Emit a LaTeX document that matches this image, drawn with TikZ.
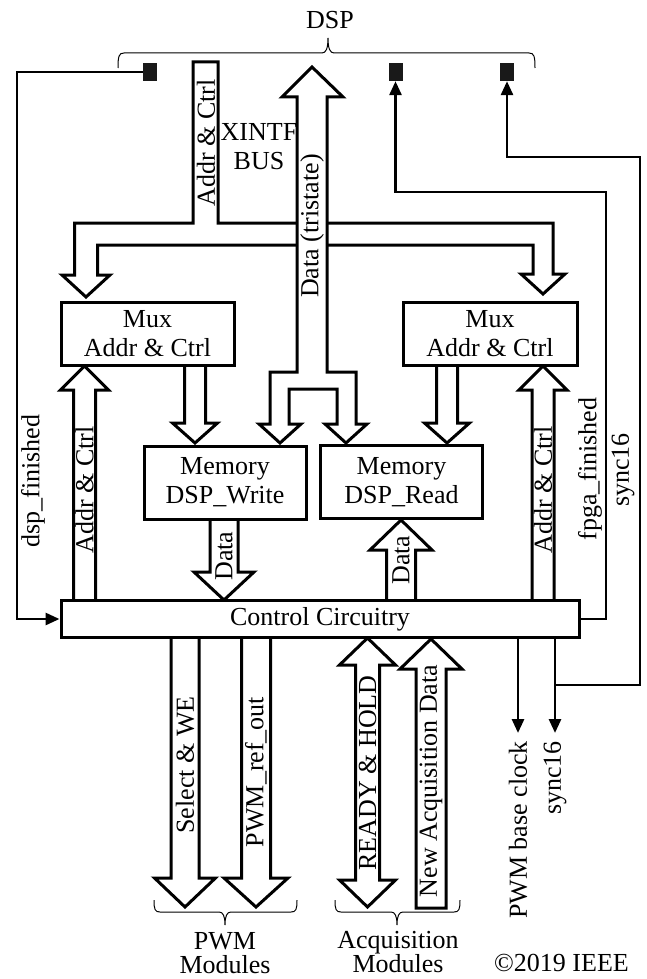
\documentclass[tikz,border=0pt]{standalone}
\usepackage{fontspec}
\setmainfont{Liberation Serif}
\usetikzlibrary{arrows.meta}
% x, ystart, head base, tip, shaft half width, head half width
\newcommand\fatarrow[6]{%
  \path[fat] ({#1-#5},#2) -- ({#1-#5},#3) -- ({#1-#6},#3) -- (#1,#4) -- ({#1+#6},#3) -- ({#1+#5},#3) -- ({#1+#5},#2);}
% x1, x2, xmid, yend, yline, ytip
\newcommand\hbrace[6]{%
  \draw[brc] (#1,#4) .. controls (#1,{#5+(#4-#5)*0.2}) and ({#1+1},#5) .. ({#1+6},#5) -- ({#3-6},#5)
    .. controls ({#3-2},#5) and (#3,{#5+(#6-#5)*0.3}) .. (#3,#6)
    .. controls (#3,{#5+(#6-#5)*0.3}) and ({#3+2},#5) .. ({#3+6},#5) -- ({#2-6},#5)
    .. controls ({#2-1},#5) and (#2,{#5+(#4-#5)*0.2}) .. (#2,#4);}
\begin{document}
\begin{tikzpicture}[x=1pt,y=-1pt,
  every node/.style={font=\fontsize{26}{29}\selectfont, inner sep=0pt},
  box/.style={draw, line width=3pt, fill=white, align=center},
  fat/.style={draw, fill=white, line width=3pt, line join=miter},
  wire/.style={line width=2.8pt},
  tip/.style={-{Triangle[length=14pt,width=12pt]}},
  brc/.style={line width=1pt},
  lbl/.style={rotate=90},
  sq/.style={fill=black!90, minimum width=14pt, minimum height=18pt}
]
\useasboundingbox (0,0) rectangle (647,979);

% ---- top labels and brace
\node (dsp) at (330,20) {DSP};
\hbrace{118}{535}{328}{68}{53}{38}
\node[sq] (s1) at (150,72) {};
\node[sq] (s2) at (395.5,72) {};
\node[sq] (s3) at (507,72) {};

% ---- Addr & Ctrl bus from DSP
\path[fat] (193,62) -- (218,62) -- (218,223) -- (553,223) -- (553,274) -- (565,274) -- (543,294)
  -- (521,274) -- (533,274) -- (533,245) -- (97.5,245) -- (97.5,275) -- (110,275) -- (86,297)
  -- (62,275) -- (74.5,275) -- (74.5,223) -- (193,223) -- cycle;
% ---- Data (tristate) bus
\path[fat] (297,372) -- (270,372) -- (270,424) -- (259,424) -- (280,443) -- (301,424) -- (289,424)
  -- (289,389) -- (337,389) -- (337,424) -- (325,424) -- (346,443) -- (367,424) -- (356,424)
  -- (356,372) -- (327,372) -- (327,97) -- (343,97) -- (312,67) -- (282,97) -- (297,97) -- cycle;

% ---- fat arrows between blocks
\fatarrow{195}{366}{423}{443}{10.5}{22.5}
\fatarrow{447}{366}{423}{443}{10.5}{22.5}
\fatarrow{84.5}{600}{390}{366}{11}{24}
\fatarrow{543}{600}{390}{366}{11}{24}
\fatarrow{224}{520}{572}{600}{14}{30}
\fatarrow{401}{600}{550}{520}{14.5}{31}
\fatarrow{185}{638}{878}{907}{14}{30.5}
\fatarrow{256}{638}{878}{907}{14.5}{32}
% READY & HOLD (double)
\path[fat] (355.5,665) -- (339.5,665) -- (367.5,638) -- (395.5,665) -- (379.5,665) -- (379.5,880)
  -- (395.5,880) -- (367.5,907) -- (339.5,880) -- (355.5,880) -- cycle;
% New Acquisition Data
\path[fat] (416,908) -- (416,669) -- (400,669) -- (431,639) -- (462,669) -- (446,669) -- (446,908) -- cycle;

% ---- blocks
\node[box, minimum width=173pt, minimum height=63pt] (muxL) at (147.5,333.5) {Mux\\Addr \& Ctrl};
\node[box, minimum width=174pt, minimum height=63pt] (muxR) at (490,333.5) {Mux\\Addr \& Ctrl};
\node[box, minimum width=162pt, minimum height=73pt] (memW) at (225,482.5) {Memory\\DSP\_Write};
\node[box, minimum width=162pt, minimum height=73pt] (memR) at (401.5,482) {Memory\\DSP\_Read};
\node[box, minimum width=518pt, minimum height=37pt] (ctrl) at (320,619) {Control Circuitry};

% ---- thin wires
\draw[wire,tip] (s1.west) -- (17,72) -- (17,619) -- (ctrl.west);
\draw[wire,tip] (ctrl.east) -- (606,619) -- (606,192) -| (s2.south);
\coordinate (pb) at (518,638);
\coordinate (sy) at (555,638);
\coordinate (syj) at (555,685);
\draw[wire,tip] (pb) -- (518,733);
\draw[wire,tip] (sy) -- (555,733);
\draw[wire,tip] (syj) -| (640,157) -| (s3.south);

% ---- labels
\node[align=center] (xintf) at (259,147) {XINTF\\BUS};
\node[lbl] at (206,143) {Addr \& Ctrl};
\node[lbl] at (312,226) {Data (tristate)};
\node[lbl] at (33,481) {dsp\_finished};
\node[lbl] at (84.5,490) {Addr \& Ctrl};
\node[lbl] at (224,556) {Data};
\node[lbl] at (401,560) {Data};
\node[lbl] at (543,490) {Addr \& Ctrl};
\node[lbl] at (590,469) {fpga\_finished};
\node[lbl] at (623,470) {sync16};
\node[lbl] at (185,765) {Select \& WE};
\node[lbl] at (256,772) {PWM\_ref\_out};
\node[lbl] at (367.5,773) {READY \& HOLD};
\node[lbl] at (431,781) {New Acquisition Data};
\node[lbl,anchor=east] at (518,741) {PWM base clock};
\node[lbl,anchor=east] at (555,741) {sync16};

% ---- bottom braces and texts
\hbrace{154}{297}{225}{900}{912}{925}
\hbrace{335}{460}{397}{900}{912}{925}
\node[align=center, font=\fontsize{26}{24}\selectfont] (pwm) at (225,953) {PWM\\Modules};
\node[align=center, font=\fontsize{26}{24}\selectfont] (acq) at (398,952) {Acquisition\\Modules};
\node[anchor=west] (ieee) at (494,963) {\textcopyright 2019 IEEE};
\end{tikzpicture}
\end{document}
